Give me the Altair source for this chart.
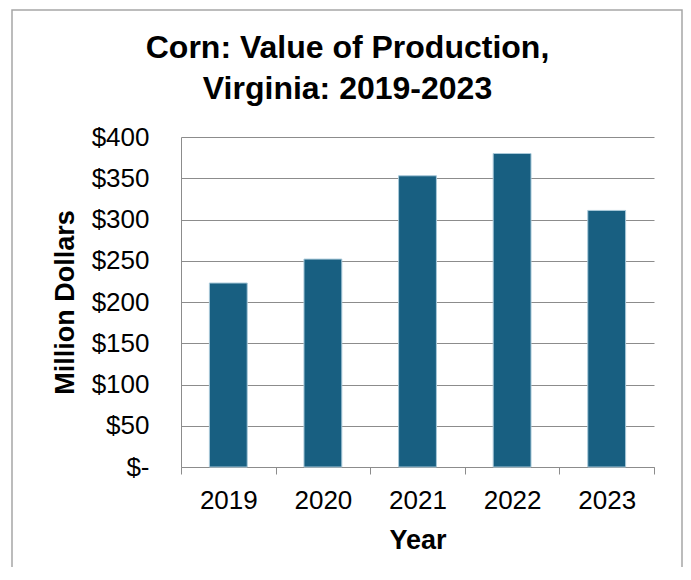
import altair as alt
import pandas as pd

years = ["2019", "2020", "2021", "2022", "2023"]
values = [223, 252, 353, 380, 311]
y_ticks = [0, 50, 100, 150, 200, 250, 300, 350, 400]
title_lines = ["Corn: Value of Production,", "Virginia: 2019-2023"]

df = pd.DataFrame({"Year": years, "Value": values})

FONT = "Liberation Sans"
GRAY = "#8c8c8c"

frame = alt.Chart(alt.Data(values=[{"k": 1}])).mark_rect(
    fill="white", fillOpacity=0, stroke="#a6a6a6", strokeWidth=1.5
).encode(
    x=alt.value(-169), x2=alt.value(501), y=alt.value(-127), y2=alt.value(470)
)

bars = alt.Chart(df).mark_bar(
    color="#185f81", stroke="#a9c9d9", strokeWidth=1, width=alt.RelativeBandSize(0.4)
).encode(
    x=alt.X(
        "Year:N",
        sort=years,
        scale=alt.Scale(paddingInner=0, paddingOuter=0),
        axis=alt.Axis(
            title="Year", labelAngle=0, tickBand="extent", ticks=True, tickSize=7,
            tickColor=GRAY, domainColor=GRAY, labelFontSize=26, labelPadding=13,
            labelColor="black", titleFontSize=27, titleFontWeight="bold",
            titleColor="black", grid=False, titleY=81, titleBaseline="alphabetic",
        ),
    ),
    y=alt.Y(
        "Value:Q",
        scale=alt.Scale(domain=[0, 400], nice=False),
        axis=alt.Axis(
            values=y_ticks,
            labelExpr="datum.value == 0 ? '$-\u00a0\u00a0' : '$' + datum.value",
            ticks=False, grid=True, gridColor=GRAY, gridWidth=1, domainColor=GRAY,
            labelFontSize=26, labelPadding=32, labelColor="black",
            title="Million Dollars", titleFontSize=27, titleFontWeight="bold",
            titleColor="black", titleAngle=-90, titleX=-108, titleY=165,
            titleAlign="center", titleBaseline="alphabetic",
        ),
    ),
)

chart = alt.layer(frame, bars).properties(
    width=473,
    height=330,
    autosize=alt.AutoSizeParams(type="none"),
    padding={"left": 173, "top": 129, "right": 29, "bottom": 100},
    title=alt.TitleParams(
        text=title_lines, fontSize=32, fontWeight="bold", font=FONT, color="black",
        anchor="middle", frame="group", dx=-70, offset=-129, lineHeight=41,
        baseline="bottom",
    ),
).configure(font=FONT).configure_view(strokeWidth=0)

chart.save("out.html", embed_options={"renderer": "svg", "actions": False})
